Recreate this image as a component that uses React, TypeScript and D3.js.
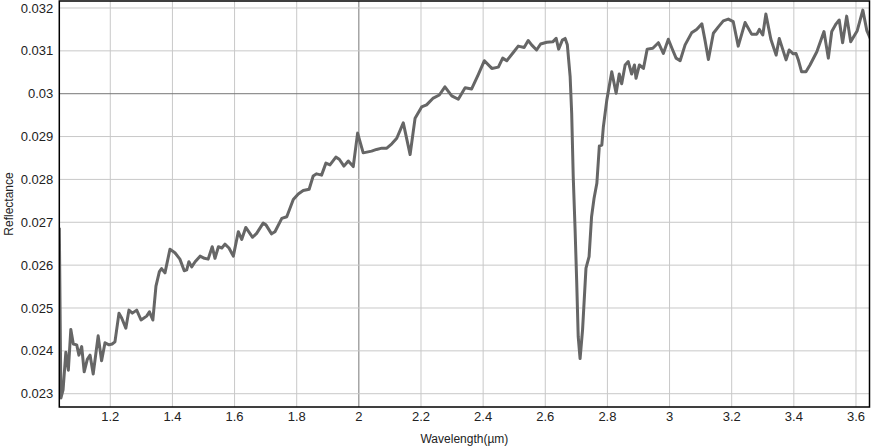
import { useEffect, useRef } from 'react'
import * as d3 from 'd3'

// spectrum (µm, reflectance)
const wavelength = [
  1.036, 1.041, 1.048, 1.057, 1.065, 1.073, 1.081, 1.092, 1.099, 1.108, 1.116, 1.126, 1.135, 1.145,
  1.161, 1.172, 1.183, 1.196, 1.206, 1.215, 1.228, 1.237, 1.25, 1.26, 1.271, 1.285, 1.299, 1.317,
  1.326, 1.337, 1.347, 1.358, 1.365, 1.376, 1.392, 1.408, 1.424, 1.438, 1.446, 1.453, 1.462, 1.473,
  1.489, 1.503, 1.515, 1.528, 1.537, 1.548, 1.559, 1.569, 1.582, 1.596, 1.612, 1.623, 1.636, 1.658,
  1.671, 1.692, 1.701, 1.719, 1.73, 1.752, 1.768, 1.789, 1.805, 1.821, 1.84, 1.853, 1.864, 1.88,
  1.894, 1.907, 1.926, 1.937, 1.952, 1.966, 1.982, 1.996, 2.014, 2.041, 2.057, 2.074, 2.09, 2.106,
  2.122, 2.143, 2.165, 2.181, 2.202, 2.218, 2.238, 2.259, 2.277, 2.299, 2.32, 2.342, 2.363, 2.384,
  2.404, 2.428, 2.449, 2.463, 2.476, 2.497, 2.513, 2.532, 2.545, 2.556, 2.572, 2.585, 2.605, 2.624,
  2.635, 2.643, 2.655, 2.664, 2.671, 2.68, 2.685, 2.69, 2.696, 2.701, 2.706, 2.712, 2.72, 2.731,
  2.741, 2.749, 2.757, 2.766, 2.774, 2.782, 2.787, 2.798, 2.814, 2.828, 2.838, 2.846, 2.857, 2.867,
  2.878, 2.887, 2.892, 2.903, 2.916, 2.928, 2.946, 2.964, 2.98, 2.996, 3.01, 3.021, 3.034, 3.05,
  3.071, 3.087, 3.104, 3.114, 3.125, 3.141, 3.157, 3.173, 3.189, 3.205, 3.221, 3.243, 3.264, 3.281,
  3.289, 3.3, 3.31, 3.326, 3.343, 3.353, 3.364, 3.375, 3.385, 3.398, 3.407, 3.414, 3.425, 3.439,
  3.452, 3.474, 3.497, 3.511, 3.522, 3.536, 3.546, 3.557, 3.57, 3.583, 3.604, 3.622, 3.635, 3.647,
]
const reflectance = [
  0.02687, 0.0229, 0.02309, 0.02397, 0.02355, 0.0245, 0.02416, 0.02414, 0.0239, 0.0241, 0.02351, 0.0238, 0.0239, 0.02346,
  0.02435, 0.02377, 0.02419, 0.02414, 0.02416, 0.02421, 0.02488, 0.02476, 0.02453, 0.02495, 0.02488, 0.02495, 0.02472, 0.02481,
  0.02491, 0.02472, 0.02551, 0.02585, 0.02592, 0.02582, 0.02637, 0.02629, 0.02614, 0.02587, 0.02589, 0.02608, 0.02596, 0.02608,
  0.02621, 0.02616, 0.02614, 0.02643, 0.02616, 0.02643, 0.0264, 0.02649, 0.0264, 0.02621, 0.02678, 0.0266, 0.02688, 0.02665,
  0.02674, 0.02698, 0.02694, 0.02673, 0.02678, 0.02709, 0.02713, 0.02753, 0.02766, 0.02774, 0.02777, 0.02808, 0.02813, 0.0281,
  0.02838, 0.02834, 0.02852, 0.02847, 0.02831, 0.02843, 0.0283, 0.02908, 0.02862, 0.02866, 0.0287, 0.02873, 0.02873, 0.02883,
  0.02896, 0.02932, 0.02858, 0.02943, 0.02969, 0.02974, 0.02989, 0.02997, 0.03016, 0.02995, 0.02987, 0.03014, 0.03011, 0.03044,
  0.03077, 0.03059, 0.03062, 0.03083, 0.03077, 0.03096, 0.03111, 0.03108, 0.03124, 0.03114, 0.03102, 0.03116, 0.0312, 0.03121,
  0.03129, 0.03104, 0.03125, 0.03129, 0.03114, 0.0304, 0.02954, 0.02806, 0.02682, 0.02565, 0.02433, 0.02382, 0.02449, 0.02593,
  0.0262, 0.02713, 0.02756, 0.02791, 0.02878, 0.0288, 0.02923, 0.02985, 0.03051, 0.03001, 0.03046, 0.03023, 0.03067, 0.03075,
  0.03046, 0.03067, 0.03036, 0.03067, 0.03059, 0.03104, 0.03106, 0.03119, 0.03094, 0.03127, 0.03102, 0.03083, 0.03077, 0.03114,
  0.03142, 0.0315, 0.03163, 0.03125, 0.0308, 0.03141, 0.03156, 0.0317, 0.03174, 0.03168, 0.03111, 0.03166, 0.03139, 0.03139,
  0.0315, 0.03137, 0.03186, 0.03127, 0.0309, 0.03129, 0.03104, 0.03079, 0.03102, 0.03093, 0.03094, 0.0308, 0.03051, 0.03051,
  0.03067, 0.03098, 0.03145, 0.03083, 0.03145, 0.03163, 0.03172, 0.03119, 0.03181, 0.03121, 0.03147, 0.03195, 0.03147, 0.03127,
]

const xTicks = [1.2, 1.4, 1.6, 1.8, 2, 2.2, 2.4, 2.6, 2.8, 3, 3.2, 3.4, 3.6]
const yTicks = [0.023, 0.024, 0.025, 0.026, 0.027, 0.028, 0.029, 0.03, 0.031, 0.032]
const xDomain: [number, number] = [1.0359, 3.6435]
const yDomain: [number, number] = [0.02269, 0.032163]

const FONT = '"Liberation Sans", Arial, Helvetica, sans-serif'

export default function App() {
  const svgRef = useRef<SVGSVGElement>(null)

  useEffect(() => {
    if (!svgRef.current) return
    const svg = d3.select(svgRef.current)
    svg.selectAll('*').remove()

    const W = 871
    const H = 448
    const margin = { top: 1, right: 1.5, bottom: 41, left: 59.3 }
    const w = W - margin.left - margin.right
    const h = H - margin.top - margin.bottom

    const g = svg.append('g').attr('transform', `translate(${margin.left},${margin.top})`)

    const x = d3.scaleLinear().domain(xDomain).range([0, w])
    const y = d3.scaleLinear().domain(yDomain).range([h, 0])

    // grid
    g.append('g').selectAll('line').data(xTicks).join('line')
      .attr('x1', d => x(d)).attr('x2', d => x(d)).attr('y1', 0).attr('y2', h)
      .attr('stroke', d => (d === 2 ? '#777' : '#c8c8c8')).attr('stroke-width', 1)
    g.append('g').selectAll('line').data(yTicks).join('line')
      .attr('y1', d => y(d)).attr('y2', d => y(d)).attr('x1', 0).attr('x2', w)
      .attr('stroke', d => (d === 0.03 ? '#777' : '#c8c8c8')).attr('stroke-width', 1)

    // tick labels
    g.append('g').selectAll('text').data(xTicks).join('text')
      .attr('x', d => x(d)).attr('y', h + 14)
      .attr('text-anchor', 'middle')
      .attr('font-family', FONT).attr('font-size', 13).attr('fill', '#222')
      .text(d => String(+d.toFixed(1)))
    g.append('g').selectAll('text').data(yTicks).join('text')
      .attr('x', -6).attr('y', d => y(d)).attr('dy', '0.35em')
      .attr('text-anchor', 'end')
      .attr('font-family', FONT).attr('font-size', 13).attr('fill', '#222')
      .text(d => String(+d.toFixed(3)))

    // clip + line
    svg.append('defs').append('clipPath').attr('id', 'plot-clip')
      .append('rect').attr('width', w).attr('height', h)

    const pts = wavelength.map((v, i) => [v, reflectance[i]] as [number, number])
    g.append('path')
      .datum(pts)
      .attr('clip-path', 'url(#plot-clip)')
      .attr('fill', 'none')
      .attr('stroke', '#666')
      .attr('stroke-width', 3)
      .attr('stroke-linejoin', 'round')
      .attr('d', d3.line<[number, number]>().x(d => x(d[0])).y(d => y(d[1])))

    // frame
    g.append('rect').attr('width', w).attr('height', h)
      .attr('fill', 'none').attr('stroke', '#000').attr('stroke-width', 1.5)

    // axis titles
    svg.append('text')
      .attr('x', margin.left + w / 2).attr('y', H - 5)
      .attr('text-anchor', 'middle')
      .attr('font-family', FONT).attr('font-size', 12).attr('fill', '#222')
      .text('Wavelength(µm)')
    svg.append('text')
      .attr('transform', 'rotate(-90)')
      .attr('x', -(margin.top + h / 2)).attr('y', 13)
      .attr('text-anchor', 'middle')
      .attr('font-family', FONT).attr('font-size', 12).attr('fill', '#222')
      .text('Reflectance')
  }, [])

  return (
    <div style={{ position: 'fixed', left: 0, top: 0, width: 871, height: 448, background: '#fff' }}>
      <svg ref={svgRef} width={871} height={448} style={{ display: 'block' }} />
    </div>
  )
}
